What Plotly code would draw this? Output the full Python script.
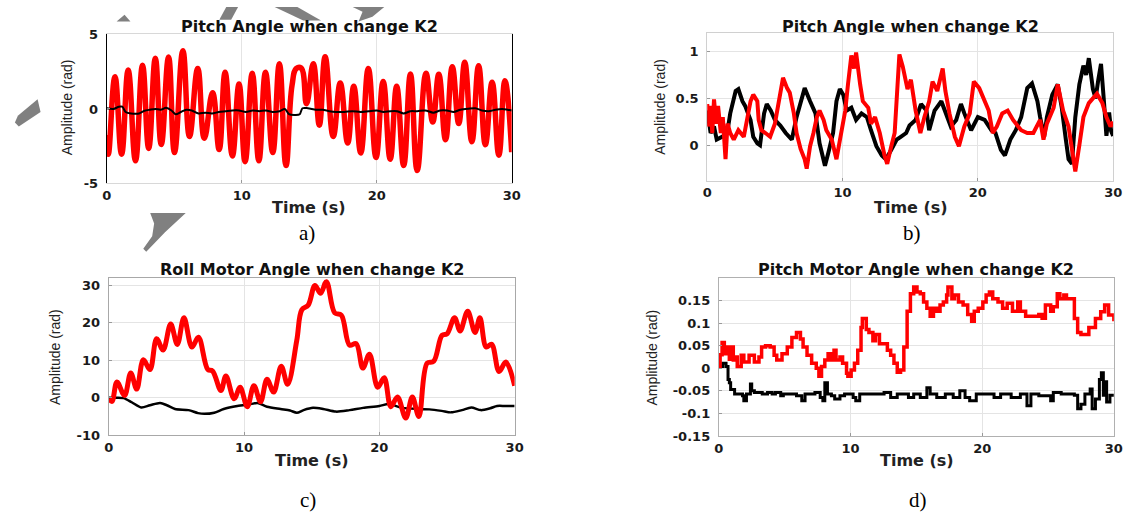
import plotly.graph_objects as go

W, H = 1137, 520

# ---------------- data ----------------
# panel a) Pitch Angle
a_t_red = [0.0, 0.12, 0.61, 1.10, 1.59, 2.13, 2.65, 3.11, 3.60, 4.04, 4.58, 5.02, 5.64, 6.13, 6.74, 7.23,
           7.84, 8.33, 8.77, 9.31, 9.80, 10.25, 10.78, 11.27, 11.76, 12.30, 12.79, 13.28, 13.73, 14.05,
           14.40, 14.80, 15.30, 15.75, 16.18, 16.78, 17.30, 17.85, 18.30, 18.82, 19.38, 19.95, 20.48,
           21.00, 21.48, 22.00, 22.50, 23.00, 23.65, 24.15, 24.60, 25.10, 25.60, 26.08, 26.52, 27.05,
           27.55, 28.05, 28.55, 29.05, 29.50, 30.00]
a_red = [-1.74, -3.04, 2.17, -3.04, 2.61, -3.48, 2.93, -2.65, 3.41, -2.39, 3.48, -2.93, 3.91, -1.85, 2.72,
         -1.96, 1.09, -2.72, 2.46, -3.15, 1.67, -3.54, 2.39, -3.48, 2.46, -2.93, 3.04, -3.80, 1.60, 2.72,
         2.75, 0.35, 3.04, -1.09, 3.50, -1.85, 1.74, -2.28, 1.52, -2.95, 2.72, -3.26, 1.85, -3.37, 1.52,
         -3.80, 2.35, -4.13, 2.39, -0.87, 2.33, -2.07, 2.83, -0.98, 3.13, -2.20, 2.90, -2.40, 1.80,
         -3.10, 1.90, -2.90]
a_t_blk = [0.0, 0.5, 0.9, 1.15, 1.4, 1.8, 2.4, 2.8, 3.2, 3.6, 4.0, 4.4, 4.8, 5.1, 5.5, 5.9, 6.3, 6.8, 7.3,
           7.8, 8.3, 8.8, 9.3, 9.8, 10.3, 10.8, 11.3, 11.8, 12.3, 12.8, 13.2, 13.5, 14.0, 14.3, 14.5, 14.9,
           15.5, 16.0, 16.5, 17.0, 17.6, 18.2, 18.8, 19.4, 20.0, 20.5, 21.0, 21.5, 22.0, 22.5, 23.0, 23.6,
           24.2, 24.7, 25.2, 25.7, 26.2, 26.8, 27.3, 27.8, 28.3, 28.8, 29.3, 29.7, 30.0]
a_blk = [0.05, 0.0, 0.15, 0.15, -0.2, -0.3, -0.3, -0.12, -0.05, 0.0, -0.05, 0.08, -0.1, -0.35, -0.2,
         -0.05, -0.1, -0.3, -0.25, -0.3, -0.2, -0.15, -0.1, -0.1, -0.2, -0.1, -0.15, -0.1, -0.2, -0.15,
         0.0, -0.35, -0.4, -0.35, 0.05, 0.05, -0.05, -0.05, -0.15, -0.2, -0.2, -0.15, -0.2, -0.15, -0.1,
         -0.2, -0.15, -0.15, -0.3, -0.15, -0.15, -0.1, -0.25, -0.1, -0.1, -0.2, -0.05, 0.02, 0.05, -0.1,
         -0.15, -0.05, 0.0, -0.05, -0.1]

# panel b) Pitch Angle
b_t_blk = [0, 0.25, 0.5, 0.7, 1.1, 1.47, 1.7, 2.1, 2.3, 2.6, 2.8, 3.2, 3.4, 3.7, 3.9, 4.2, 4.4, 4.7, 5.0,
           5.4, 5.8, 6.25, 6.6, 7.0, 7.2, 7.6, 8.0, 8.3, 8.7, 8.95, 9.3, 9.55, 9.8, 10.05, 10.3, 10.65,
           11.0, 11.4, 11.8, 12.1, 12.5, 12.9, 13.2, 13.6, 14.0, 14.3, 14.7, 14.95, 15.4, 15.8, 16.2,
           16.4, 16.8, 17.3, 17.6, 18.0, 18.4, 18.75, 19.0, 19.5, 20.0, 20.5, 21.0, 21.3, 21.7, 22.0,
           22.4, 22.8, 23.2, 23.65, 24.0, 24.4, 24.6, 24.9, 25.1, 25.5, 25.9, 26.2, 26.5, 26.7, 26.95,
           27.2, 27.5, 27.8, 28.0, 28.2, 28.5, 28.7, 28.9, 29.1, 29.3, 29.5, 29.7, 29.85, 30.0]
b_blk = [0.37, 0.13, 0.2, 0.06, 0.09, 0.13, 0.34, 0.58, 0.6, 0.47, 0.42, 0.27, 0.09, 0.02, 0.0, 0.34,
         0.44, 0.37, 0.27, 0.21, 0.13, 0.06, 0.3, 0.5, 0.61, 0.47, 0.34, 0.02, -0.22, -0.08, 0.13, 0.47,
         0.6, 0.54, 0.37, 0.4, 0.27, 0.34, 0.3, 0.16, -0.01, -0.11, -0.15, -0.05, 0.06, 0.09, 0.13, 0.21,
         0.27, 0.44, 0.37, 0.16, 0.37, 0.47, 0.34, 0.2, 0.27, 0.44, 0.34, 0.16, 0.3, 0.27, 0.16, 0.13,
         -0.05, -0.11, 0.06, 0.16, 0.3, 0.61, 0.66, 0.47, 0.3, 0.09, 0.3, 0.54, 0.65, 0.4, 0.06, -0.15,
         -0.2, 0.3, 0.65, 0.85, 0.75, 0.93, 0.6, 0.5, 0.7, 0.87, 0.5, 0.1, 0.35, 0.15, 0.1]
b_t_red = [0, 0.12, 0.25, 0.37, 0.5, 0.66, 0.8, 1.0, 1.15, 1.35, 1.5, 1.7, 1.96, 2.3, 2.7, 2.95, 3.2,
           3.4, 3.7, 3.8, 4.0, 4.3, 4.65, 5.0, 5.4, 5.6, 5.9, 6.1, 6.4, 6.6, 6.9, 7.2, 7.35, 7.6, 7.85,
           8.1, 8.3, 8.6, 8.8, 9.2, 9.55, 9.9, 10.2, 10.4, 10.65, 10.85, 11.0, 11.3, 11.5, 11.9, 12.1,
           12.4, 12.75, 13.1, 13.3, 13.6, 13.85, 14.2, 14.45, 14.8, 15.05, 15.4, 15.75, 16.05, 16.4,
           16.65, 17.0, 17.4, 17.6, 17.9, 18.3, 18.6, 19.0, 19.4, 19.7, 20.1, 20.5, 20.8, 21.1, 21.4,
           21.8, 22.2, 22.6, 23.2, 23.65, 24.1, 24.6, 24.85, 25.1, 25.6, 25.9, 26.3, 26.7, 27.0, 27.2,
           27.5, 27.8, 28.2, 28.5, 28.8, 29.2, 29.5, 29.8, 30.0]
b_red = [0.44, 0.2, 0.42, 0.13, 0.49, 0.23, 0.42, 0.13, 0.3, -0.15, 0.23, 0.13, 0.06, 0.16, 0.09, 0.3,
         0.47, 0.54, 0.47, 0.27, 0.16, 0.13, 0.09, 0.23, 0.56, 0.72, 0.61, 0.56, 0.34, 0.13, -0.04,
         -0.15, -0.25, -0.01, 0.13, 0.3, 0.37, 0.27, 0.16, 0.06, -0.15, 0.13, 0.37, 0.65, 0.96, 0.82,
         0.99, 0.65, 0.47, 0.4, 0.23, 0.3, 0.13, -0.11, -0.2, -0.01, 0.13, 0.97, 0.84, 0.6, 0.7, 0.37,
         0.13, 0.3, 0.47, 0.68, 0.58, 0.82, 0.58, 0.34, 0.09, -0.01, 0.2, 0.34, 0.68, 0.61, 0.47, 0.37,
         0.13, 0.2, 0.34, 0.37, 0.27, 0.16, 0.13, 0.13, 0.27, 0.06, 0.23, 0.4, 0.65, 0.37, 0.2, -0.1,
         -0.28, 0.0, 0.3, 0.45, 0.5, 0.55, 0.45, 0.3, 0.2, 0.25]

# panel c) Roll Motor Angle
c_t_red = [0, 0.24, 0.61, 1.17, 1.63, 2.07, 2.56, 3.05, 3.54, 4.02, 4.58, 5.07, 5.56, 6.15, 6.63, 7.32,
           7.68, 8.29, 8.66, 9.27, 9.71, 10.24, 10.73, 11.22, 11.7, 12.19, 12.75, 13.22, 13.9, 14.27,
           14.75, 15.24, 15.66, 16.09, 16.7, 17.19, 17.8, 18.29, 18.78, 19.27, 19.88, 20.36, 20.85,
           21.34, 21.95, 22.44, 22.92, 23.53, 24.02, 24.63, 25.0, 25.56, 25.97, 26.53, 27.07, 27.43,
           27.9, 28.3, 28.85, 29.35, 30.0]
c_red = [-0.3, -1.0, 4.2, 0.6, 6.6, 2.3, 10.1, 7.5, 15.7, 12.7, 19.6, 14.2, 21.3, 13.5, 16.1, 7.5, 7.1,
         1.9, 5.8, -0.3, 2.8, -2.4, 3.2, -1.1, 4.9, 1.5, 8.4, 3.6, 15.3, 23.4, 24.7, 29.9, 27.8, 30.9,
         22.6, 22.0, 14.0, 14.4, 7.9, 11.6, 2.8, 5.3, -2.4, 0.2, -5.4, 0.2, -5.0, 9.2, 9.7, 16.6, 17.0,
         21.3, 17.8, 23.0, 17.4, 21.3, 13.5, 14.2, 7.0, 9.5, 3.2]
c_t_blk = [0, 0.5, 1.1, 1.7, 2.4, 3.05, 3.8, 4.3, 4.9, 5.9, 6.6, 7.07, 7.8, 8.5, 9.5, 10.5, 11.0, 11.7,
           12.7, 13.4, 13.9, 14.4, 15.1, 15.85, 16.8, 17.8, 18.8, 20.0, 20.7, 21.7, 22.9, 23.7, 24.6,
           25.3, 26.1, 26.8, 27.5, 28.2, 28.7, 29.3, 30.0]
c_blk = [0, 0, -0.1, -1.2, -2.6, -2.0, -1.4, -2.0, -3.0, -3.3, -4.1, -4.3, -4.0, -3.0, -2.2, -1.7, -1.4,
         -2.4, -3.0, -3.4, -4.0, -3.3, -2.7, -3.0, -3.7, -3.3, -2.7, -2.2, -1.7, -2.7, -3.0, -3.1, -3.5,
         -3.9, -3.3, -2.6, -3.3, -2.8, -2.2, -2.2, -2.2]

# panel d) Pitch Motor Angle
d_t_red = [0, 0.1, 0.25, 0.42, 0.6, 0.8, 0.9, 1.1, 1.3, 1.4, 1.7, 1.9, 2.3, 2.7, 3.05, 3.25, 3.55, 3.9,
           4.2, 4.4, 4.8, 5.2, 5.55, 5.9, 6.2, 6.4, 6.7, 7.05, 7.4, 7.6, 7.8, 8.05, 8.3, 8.55, 8.75, 8.9,
           9.2, 9.4, 9.7, 9.8, 10.05, 10.3, 10.55, 10.8, 10.9, 11.2, 11.4, 11.7, 11.9, 12.2, 12.55, 12.8,
           13.05, 13.3, 13.55, 13.8, 14.05, 14.3, 14.55, 14.8, 15.05, 15.3, 15.55, 15.8, 16.05, 16.3,
           16.55, 16.8, 17.05, 17.3, 17.4, 17.7, 17.9, 18.2, 18.55, 18.9, 19.2, 19.4, 19.7, 20.05, 20.3,
           20.55, 20.8, 21.2, 21.55, 21.9, 22.3, 22.7, 22.9, 23.3, 23.8, 24.3, 24.55, 24.8, 25.2, 25.4,
           25.7, 25.9, 26.2, 26.4, 27.0, 27.25, 27.5, 28.1, 28.6, 29.0, 29.3, 29.6, 30.0]
d_red = [0.004, 0.03, 0.057, 0.032, 0.047, 0.02, 0.047, 0.018, 0.025, 0.004, 0.029, 0.014, 0.029, 0.014,
         0.025, 0.047, 0.05, 0.047, 0.029, 0.018, 0.032, 0.047, 0.068, 0.079, 0.065, 0.047, 0.029, 0.011,
         0.0, -0.018, 0.004, 0.018, 0.032, 0.018, 0.04, 0.018, 0.025, 0.011, -0.011, -0.018, -0.004,
         0.011, 0.04, 0.09, 0.11, 0.086, 0.079, 0.061, 0.075, 0.054, 0.054, 0.04, 0.029, 0.011, -0.009,
         -0.004, 0.047, 0.126, 0.165, 0.18, 0.169, 0.165, 0.147, 0.133, 0.115, 0.133, 0.126, 0.14, 0.147,
         0.162, 0.18, 0.154, 0.162, 0.147, 0.14, 0.119, 0.104, 0.126, 0.133, 0.147, 0.162, 0.169, 0.154,
         0.147, 0.133, 0.144, 0.126, 0.147, 0.126, 0.115, 0.115, 0.119, 0.111, 0.14, 0.126, 0.136, 0.165,
         0.154, 0.162, 0.154, 0.11, 0.079, 0.075, 0.09, 0.11, 0.125, 0.14, 0.118, 0.104]
d_t_blk = [0, 0.3, 0.55, 0.7, 0.8, 0.9, 1.2, 1.55, 1.8, 1.9, 2.1, 2.4, 2.5, 2.7, 3.05, 3.3, 3.7, 4.05, 4.3,
           4.7, 4.9, 5.2, 5.55, 5.9, 6.3, 6.55, 6.9, 7.3, 7.7, 7.9, 8.05, 8.25, 8.55, 8.8, 9.2, 9.55, 9.9,
           10.2, 10.4, 10.7, 11.8, 12.55, 13.05, 13.55, 14.4, 14.8, 15.3, 15.8, 16.05, 16.55, 17.2, 17.8,
           18.3, 18.7, 19.05, 19.55, 20.3, 20.9, 21.4, 22.2, 22.9, 23.4, 23.7, 24.3, 25.2, 25.4, 26.0,
           27.0, 27.25, 27.5, 27.8, 28.2, 28.35, 28.6, 28.9, 29.05, 29.2, 29.3, 29.45, 29.7, 30.0]
d_blk = [0.004, 0.011, 0.004, -0.025, -0.032, -0.047, -0.057, -0.057, -0.061, -0.072, -0.057, -0.035,
         -0.05, -0.054, -0.054, -0.057, -0.054, -0.057, -0.054, -0.061, -0.057, -0.057, -0.057, -0.061,
         -0.072, -0.057, -0.057, -0.054, -0.065, -0.072, -0.032, -0.057, -0.061, -0.068, -0.061, -0.057,
         -0.057, -0.065, -0.072, -0.057, -0.057, -0.054, -0.065, -0.057, -0.065, -0.057, -0.065, -0.043,
         -0.057, -0.065, -0.057, -0.065, -0.05, -0.065, -0.072, -0.057, -0.057, -0.065, -0.057, -0.065,
         -0.057, -0.083, -0.057, -0.061, -0.072, -0.054, -0.057, -0.06, -0.09, -0.08, -0.057, -0.046,
         -0.09, -0.068, -0.025, -0.01, -0.06, -0.03, -0.075, -0.06, -0.06]

x_ticks = [0, 10, 20, 30]
titles = ["Pitch Angle when change K2", "Pitch Angle when change K2",
          "Roll Motor Angle when change K2", "Pitch Motor Angle when change K2"]
panel_labels = ["a)", "b)", "c)", "d)"]
x_label = "Time (s)"
y_label = "Amplitude (rad)"

# ---------------- layout helpers ----------------
def px(x):
    return x / W

def py(y):
    return 1 - y / H

fig = go.Figure()

RED = "#ff0000"
BLK = "#000000"

# a
fig.add_trace(go.Scatter(x=a_t_red, y=a_red, mode="lines", line=dict(color=RED, width=5.5, shape="spline", smoothing=1.3),
                         xaxis="x", yaxis="y", showlegend=False))
fig.add_trace(go.Scatter(x=a_t_blk, y=a_blk, mode="lines", line=dict(color=BLK, width=2, shape="spline", smoothing=0.8),
                         xaxis="x", yaxis="y", showlegend=False))
# b
fig.add_trace(go.Scatter(x=b_t_blk, y=b_blk, mode="lines", line=dict(color=BLK, width=4),
                         xaxis="x2", yaxis="y2", showlegend=False))
fig.add_trace(go.Scatter(x=b_t_red, y=b_red, mode="lines", line=dict(color=RED, width=4),
                         xaxis="x2", yaxis="y2", showlegend=False))
# c
fig.add_trace(go.Scatter(x=c_t_blk, y=c_blk, mode="lines", line=dict(color=BLK, width=2.5, shape="spline", smoothing=0.8),
                         xaxis="x3", yaxis="y3", showlegend=False))
fig.add_trace(go.Scatter(x=c_t_red, y=c_red, mode="lines", line=dict(color=RED, width=5, shape="spline", smoothing=1.0),
                         xaxis="x3", yaxis="y3", showlegend=False))
# d
fig.add_trace(go.Scatter(x=d_t_blk, y=d_blk, mode="lines", line=dict(color=BLK, width=3, shape="hv"),
                         xaxis="x4", yaxis="y4", showlegend=False))
fig.add_trace(go.Scatter(x=d_t_red, y=d_red, mode="lines", line=dict(color=RED, width=3.5, shape="hv"),
                         xaxis="x4", yaxis="y4", showlegend=False))

tickfont = dict(family="DejaVu Sans", size=13, color="#1a1a1a", weight="bold")
GRID = "#e4e4e4"

def xax(domain, anchor, linecolor):
    return dict(domain=domain, anchor=anchor, range=[0, 30], tickvals=x_ticks, ticktext=[str(v) for v in x_ticks],
                showgrid=True, gridcolor=GRID, gridwidth=1, zeroline=False, showline=True, linecolor=linecolor,
                linewidth=1, mirror=True, ticks="inside", ticklen=3, tickcolor="#999999", tickfont=tickfont,
                fixedrange=True)

def yax(domain, anchor, rng, tv, tt, linecolor, grid=True):
    return dict(domain=domain, anchor=anchor, range=rng, tickvals=tv, ticktext=tt,
                showgrid=grid, gridcolor=GRID, gridwidth=1, zeroline=False, showline=True, linecolor=linecolor,
                linewidth=1, mirror=True, ticks="inside", ticklen=3, tickcolor="#999999", tickfont=tickfont,
                ticklabelstandoff=5, fixedrange=True)

a_box = dict(x=(103, 513), y=(28.3, 181.7))
b_box = dict(x=(711, 1122), y=(26.7, 178.9))
c_box = dict(x=(105, 516), y=(278.6, 441.0))
d_box = dict(x=(722.7, 1122.7), y=(279.0, 441.7))

def dom(box):
    return [px(box["x"][0]), px(box["x"][1])], [py(box["y"][1]), py(box["y"][0])]

ax_a, ay_a = dom(a_box)
ax_b, ay_b = dom(b_box)
ax_c, ay_c = dom(c_box)
ax_d, ay_d = dom(d_box)

fig.update_layout(
    width=W, height=H, autosize=False,
    margin=dict(l=0, r=0, t=0, b=0),
    paper_bgcolor="white", plot_bgcolor="white",
    xaxis=xax(ax_a, "y", "#d8d8d8"),
    yaxis=yax(ay_a, "x", [-5, 5], [-5, 0, 5], ["-5", "0", "5"], "#000000", grid=False),
    xaxis2=xax(ax_b, "y2", "#d0d0d0"),
    yaxis2=yax(ay_b, "x2", [-0.38, 1.2], [0, 0.5, 1], ["0", "0.5", "1"], "#d0d0d0"),
    xaxis3=xax(ax_c, "y3", "#a8a8a8"),
    yaxis3=yax(ay_c, "x3", [-10, 32], [-10, 0, 10, 20, 30], ["-10", "0", "10", "20", "30"], "#a8a8a8"),
    xaxis4=xax(ax_d, "y4", "#b0b0b0"),
    yaxis4=yax(ay_d, "x4", [-0.15, 0.2], [-0.15, -0.1, -0.05, 0, 0.05, 0.1, 0.15],
               ["-0.15", "-0.1", "-0.05", "0", "0.05", "0.1", "0.15"], "#b0b0b0"),
)

ann = []
title_font = dict(family="DejaVu Sans", size=16, color="#111111", weight="bold")
xl_font = dict(family="DejaVu Sans", size=16, color="#222222", weight="bold")
yl_font = dict(family="Liberation Sans", size=14, color="#222222")
pl_font = dict(family="Liberation Serif", size=21, color="#000000")

title_pos = [(308, 20), (917, 20), (311, 270), (922, 270)]
xl_pos = [(308, 206), (917, 206), (311, 467), (923, 467)]
yl_pos = [(63, 103), (663, 103), (50, 360), (655, 361)]
pl_pos = [(306, 233), (918, 233), (307, 508), (924, 508)]

for i in range(4):
    ann.append(dict(text=titles[i], x=px(title_pos[i][0]), y=py(title_pos[i][1]), xref="paper", yref="paper",
                    xanchor="center", yanchor="middle", showarrow=False, font=title_font))
    ann.append(dict(text=x_label, x=px(xl_pos[i][0]), y=py(xl_pos[i][1]), xref="paper", yref="paper",
                    xanchor="center", yanchor="middle", showarrow=False, font=xl_font))
    ann.append(dict(text=y_label, x=px(yl_pos[i][0]), y=py(yl_pos[i][1]), xref="paper", yref="paper",
                    xanchor="center", yanchor="middle", showarrow=False, font=yl_font, textangle=-90))
    ann.append(dict(text=panel_labels[i], x=px(pl_pos[i][0]), y=py(pl_pos[i][1]), xref="paper", yref="paper",
                    xanchor="center", yanchor="middle", showarrow=False, font=pl_font))
fig.update_layout(annotations=ann)

# grey watermark fragments (decoration, pixel outlines)
polys = [
    [(10, 119), (13, 112), (33, 95), (36, 108), (14, 123)],
    [(147, 212), (183, 212), (162, 232), (143, 252), (140, 249), (149, 236), (151, 223)],
    [(113, 15), (127, 15), (121, 8)],
    [(217, 13), (224, 0), (236, 0), (229, 13)],
    [(273, 0), (296, 0), (320, 14), (302, 14)],
    [(352, 0), (384, 0), (372, 10), (358, 15), (362, 5)],
]
shapes = []
for poly in polys:
    path = "M " + " L ".join(f"{px(x):.5f},{py(y):.5f}" for x, y in poly) + " Z"
    shapes.append(dict(type="path", path=path, xref="paper", yref="paper",
                       fillcolor="#808080", line=dict(width=0), layer="above"))
fig.update_layout(shapes=shapes)

fig.write_html("out.html")
